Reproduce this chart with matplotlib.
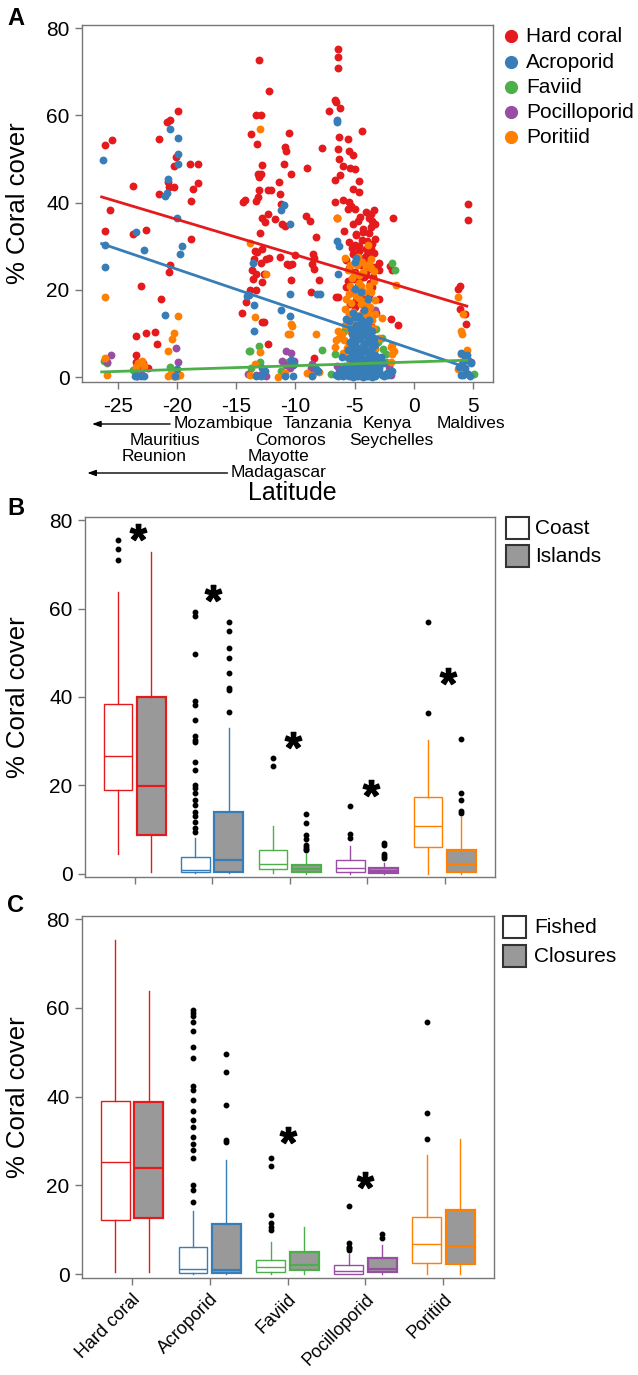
import numpy as np
import matplotlib
matplotlib.use('Agg')
import matplotlib.pyplot as plt
from matplotlib.path import Path
from matplotlib.textpath import TextPath
from matplotlib.font_manager import FontProperties
from matplotlib.patches import Rectangle
import matplotlib.transforms as mtransforms

plt.rcParams['font.family'] = ['Liberation Sans', 'DejaVu Sans']
plt.rcParams['axes.unicode_minus'] = False

# ---------------- DATA ----------------
taxa = ['Hard coral', 'Acroporid', 'Faviid', 'Pocilloporid', 'Poritiid']
colors = ['#E41A1C', '#377EB8', '#4DAF4A', '#984EA3', '#FF7F00']

# Panel A scatter (latitude, % cover)
hc_lat = [-26.1, -25.5, -25.7, -26.1, -23.7, -23.7, -22.6, -23.1, -23.5, -22.6, -21.9, -21.7, -21.4, -21.5, -21.5,
          -20.9, -20.6, -19.9, -20.1, -20.3, -20.8, -20.7, -20.3, -18.95, -18.2, -18.2, -18.7, -18.85, -18.86, -20.6,
          -20.7, -23.5, -23.5, -23.3, -22.9, -23.6, -22.5,
          -13.08, -12.26, -13.3, -12.9, -13.75, -13.25, -12.8, -13.2, -12.95, -13.1, -13.1, -12.3, -12.1, -14.3, -14.4,
          -13.3, -13.2, -12.3, -12.8, -12.6, -12.97, -12.8, -13.45, -13.25, -13.5, -12.95, -12.5, -12.25, -13.7, -13.35,
          -12.7, -13.6, -12.8, -13.85, -13.3, -14.2, -14.5, -12.8, -12.7, -12.3,
          -10.55, -10.9, -10.8, -10.97, -10.4, -11.4, -11.3, -11.25, -11.1, -10.9, -11.3, -10.75, -10.55, -10.4, -11.7,
          -9.1, -8.75, -9.03, -7.74, -8.3, -8.5, -8.4, -8.6, -8.4, -8.7, -8.0, -10.07, -10.3, -8.4,
          -6.42, -6.42, -6.42, -6.64, -6.6, -7.2, -6.2, -6.3, -5.58, -4.37, -6.42, -5.5, -5.15, -6.36, -6.0, -5.35, -5.0,
          -6.2, -6.67, -4.67, -5.1, -4.6, -6.7, -6.0, -5.5, -5.3, -5.0, -5.6, -6.5, -4.7, -4.0, -3.6, -3.4, -3.75, -3.5,
          -3.3, -4.9, -4.4, -5.0, -4.65, -4.0, -3.6, -3.3, -1.78, -5.15, -4.7, -4.2, -3.75, -6.4, -6.55, -5.7, -5.15,
          -4.6, -4.2, -3.75, -3.35, -3.5, -5.4, -5.0, -4.25, -1.9, -1.36, -2.9, -3.2, -4.0, -3.6, -4.2, -4.6, -4.2, -3.5,
          -5.0, -4.45, -4.0, -3.9, -4.5, -4.8, -5.2, -3.8, -4.3, -4.6, -3.9, -2.0, -1.8, -2.9, -2.9,
          4.62, 4.62, 3.7, 3.9, 3.9, 4.34, 4.4,
          -5.9, -5.5, -5.2, -4.9, -4.55, -4.25, -3.95, -3.65, -3.35, -5.75, -5.45, -5.05, -4.75, -4.35, -4.05, -3.7,
          -3.45, -5.3, -4.85, -4.45, -4.1, -3.8, -3.55, -5.6, -5.1]
hc_cov = [53.3, 54.4, 38.4, 33.6, 43.9, 32.9, 33.8, 21.0, 9.4, 10.1, 10.3, 7.5, 18.0, 54.6, 41.9,
          58.4, 59.0, 60.9, 50.4, 48.5, 44.8, 43.6, 43.6, 48.8, 48.9, 44.6, 43.1, 40.4, 31.7, 25.6,
          24.0, 5.0, 3.4, 2.5, 3.2, 1.5, 2.0,
          72.7, 65.5, 60.1, 60.1, 55.8, 53.5, 48.7, 46.6, 46.6, 45.8, 42.8, 42.8, 42.8, 40.5, 40.1,
          40.3, 41.2, 37.5, 36.5, 35.6, 33.1, 29.4, 29.0, 28.6, 27.0, 26.2, 27.0, 27.4, 24.5, 23.7,
          23.7, 22.5, 21.8, 19.9, 19.9, 17.2, 14.6, 12.7, 12.6, 7.7,
          56.0, 52.7, 51.8, 48.9, 46.6, 44.7, 42.0, 39.6, 35.2, 34.6, 27.5, 26.0, 25.6, 22.2, 36.3,
          37.0, 35.9, 47.9, 52.5, 32.1, 28.3, 27.2, 26.0, 24.9, 19.5, 22.2, 27.9, 25.9, 4.4,
          75.2, 73.3, 70.8, 63.6, 63.0, 61.0, 61.7, 55.0, 54.5, 56.4, 52.2, 51.8, 50.8, 50.0, 48.4, 48.0, 47.6,
          46.4, 45.1, 45.0, 43.2, 42.4, 40.1, 40.5, 40.1, 39.3, 38.6, 38.6, 36.5, 35.7, 37.9, 37.5, 38.3, 36.5, 35.9,
          35.1, 32.9, 31.4, 30.4, 29.0, 29.4, 29.4, 31.7, 36.5, 28.3, 27.4, 27.2, 28.0, 18.4, 18.3, 20.6, 19.5,
          22.2, 22.9, 24.9, 25.2, 20.7, 16.8, 16.1, 15.0, 13.4, 11.9, 18.0, 14.6, 13.0, 11.7, 10.5, 11.0, 8.5, 8.3,
          24.0, 25.8, 23.5, 19.0, 18.5, 14.0, 12.5, 33.0, 34.0, 30.0, 26.0, 25.4, 24.6, 26.1, 24.5,
          39.7, 36.1, 20.3, 20.9, 15.6, 14.4, 12.3,
          33.5, 31.0, 29.5, 32.5, 36.8, 33.3, 31.2, 34.4, 28.5, 26.8, 25.0, 22.6, 20.9, 19.8, 27.8, 21.5,
          23.0, 14.2, 17.6, 12.0, 16.5, 18.8, 30.6, 22.0, 35.0]

ac_lat = [-26.3, -26.1, -26.1, -23.5, -22.8, -20.6, -19.96, -19.9, -19.96, -20.8, -20.9, -21.0, -19.99, -19.6, -19.8,
          -21.0, -23.6, -23.4, -22.8, -23.1, -20.0, -20.2, -13.9, -14.1,
          -6.5, -6.5, -6.5, -6.3, -6.4, -11.2, -11.0, -10.5, -13.6, -10.5, -11.2, -10.5, -13.5, -13.5, -8.2, -7.9,
          -5.0, -4.85, -5.0, -5.7, -10.4, -10.1, -8.3, -8.1, -12.8, -12.6, -13.3, -12.9, -10.9, -10.2, -8.6, -2.2, -1.8,
          -5.5, -5.3, -5.1, -4.9, -4.7, -4.5, -4.3, -4.1, -3.9, -3.7, -3.5, -3.3, -5.6, -5.4, -5.2, -5.0, -4.8, -4.6,
          -4.4, -4.2, -4.0, -3.8, -3.6, -3.4, -3.2, -5.45, -5.25, -5.05, -4.85, -4.65, -4.45, -4.25, -4.05, -3.85,
          -3.65, -3.45, -5.35, -5.15, -4.95, -4.75, -4.55, -4.35, -4.15, -3.95, -3.75, -3.55, -5.0, -4.6, -4.2, -3.8,
          -5.3, -4.9, -3.3, -3.1, -2.9, -2.7, -2.5, -2.3, -5.7, -5.8, -5.9, -6.0, -6.2, -6.4, -6.6, -4.5, -3.9, -3.1,
          -2.8, -4.7, -4.1, -3.6, -5.0, -4.4,
          4.0, 4.3, 4.6, 4.05, 4.3, 4.6, 4.2, 4.8, 4.4, 4.0, 3.85, 4.75, 4.5,
          -5.65, -5.35, -5.15, -4.95, -4.75, -4.55, -4.35, -4.15, -3.95, -3.75, -3.55, -3.35, -5.55, -5.25, -4.9,
          -4.6, -4.3, -4.0, -3.7, -3.4, -5.45, -5.1, -4.8, -4.5, -4.2, -3.9, -3.6, -5.2, -4.7, -4.25, -3.85, -4.45,
          -5.05, -3.5, -4.05, -2.95, -2.6, -6.1, -5.95, -3.25]
ac_cov = [49.8, 30.2, 25.2, 33.2, 29.1, 56.9, 54.8, 51.2, 48.8, 45.4, 42.2, 41.5, 36.5, 30.1, 28.3,
          14.3, 0.2, 0.2, 0.2, 0.3, 1.9, 0.2, 18.8, 18.5,
          59.0, 58.4, 31.1, 30.0, 23.6, 38.4, 39.4, 35.2, 26.1, 19.0, 15.5, 14.0, 16.5, 10.7, 19.0, 19.0,
          26.4, 27.4, 20.3, 13.4, 3.9, 3.1, 1.8, 1.5, 2.0, 1.4, 0.3, 0.2, 0.3, 0.3, 0.3, 0.5, 1.4,
          0.2, 0.5, 0.1, 0.3, 0.2, 0.6, 0.1, 0.4, 0.2, 0.5, 0.1, 0.3, 1.2, 1.8, 2.5, 1.0, 3.2, 2.0,
          1.4, 3.8, 2.6, 1.1, 2.2, 1.6, 0.8, 4.5, 5.2, 6.0, 4.8, 6.8, 5.5, 7.2, 4.2, 5.8,
          3.5, 4.6, 8.1, 9.0, 7.5, 10.2, 8.8, 11.5, 9.6, 12.4, 8.0, 10.5, 13.8, 14.0, 15.5, 13.0,
          11.0, 12.0, 5.0, 2.9, 1.5, 0.6, 0.2, 1.0, 0.4, 2.6, 0.9, 0.2, 1.6, 0.3, 0.6, 19.5, 17.9, 3.8,
          4.6, 0.9, 1.7, 0.2, 2.8, 3.0,
          5.5, 4.6, 3.9, 3.0, 2.0, 0.8, 0.6, 3.3, 1.0, 0.4, 2.3, 0.3, 5.0,
          0.8, 2.0, 3.6, 5.0, 1.5, 9.8, 2.4, 6.4, 10.8, 3.0, 6.8, 1.2, 6.3, 10.0, 8.6,
          11.8, 4.0, 7.8, 5.4, 8.8, 12.8, 14.6, 1.9, 13.2, 0.9, 9.2, 0.6, 7.0, 4.4, 12.6, 11.2, 0.3,
          0.5, 2.8, 0.2, 2.2, 3.2, 4.6, 0.9, 7.4]

fa_lat = [-26.2, -23.7, -23.2, -20.6, -20.0, -13.85, -13.9, -13.1, -13.0, -13.8, -11.2, -10.6, -7.74, -1.8, -1.55,
          -6.7, -5.9, -5.3, -3.0, -2.6, -2.35, -2.35, -3.4, -4.6, -4.0, -5.6, 4.1, 5.1, -6.0, -3.2, -2.7, -8.6, -7.0,
          -25.9, -4.3, -5.0, -3.7]
fa_cov = [3.6, 1.6, 0.9, 2.4, 0.8, 6.0, 6.0, 7.1, 3.5, 2.0, 1.5, 3.5, 6.2, 26.2, 24.5,
          5.4, 10.5, 6.5, 8.0, 6.5, 5.4, 3.5, 3.0, 5.0, 10.0, 2.0, 2.4, 0.7, 1.8, 11.0, 9.0, 0.5, 0.8,
          3.2, 2.2, 8.0, 4.0]

po_lat = [-25.6, -25.9, -20.1, -19.95, -23.4, -23.0, -20.3, -10.8, -10.4, -10.1, -11.1, -10.8, -10.5, -10.2, -13.3,
          -13.0, -12.7, -8.6, -8.7, -8.8, -6.5, -6.3, -5.6, -5.0, -3.3, -3.5, -1.9, 4.5, 4.8, -2.1, -4.2, -3.8, -4.7,
          -5.3, -3.0, -14.0, -12.5, -4.9, -4.4, -3.9, -5.3, -3.6]
po_cov = [5.1, 3.4, 6.7, 3.4, 0.2, 0.4, 0.3, 6.0, 5.5, 3.8, 3.8, 2.8, 2.0, 2.8, 0.5,
          0.5, 0.5, 3.0, 2.0, 1.0, 2.5, 1.8, 1.0, 1.5, 15.5, 2.4, 0.5, 3.9, 3.5, 2.4, 4.5, 3.5, 2.8,
          4.0, 1.0, 0.8, 0.3, 0.6, 1.2, 0.7, 2.0, 5.5]

pr_lat = [-26.1, -26.1, -25.9, -19.9, -20.3, -20.4, -20.8, -23.3, -23.0, -23.5, -22.8, -20.0, -20.3, -20.6, -20.8,
          -19.8, -20.5, -13.87, -13.85, -13.0, -6.5, -3.9, -5.8, -3.8, -3.6, -3.4, -1.5, -12.5, -13.4, -10.4, -10.3,
          -10.5, -10.6, -8.3, -13.0, -13.4, -11.5, -10.9, -8.0, -6.6, -6.3, -6.7, -1.9, -1.7, -1.9, -1.8, -1.85,
          3.75, 4.2, 4.0, 4.05, 4.5, 4.0, 4.3, 3.75, -8.6, -9.0,
          -5.6, -5.2, -4.8, -4.4, -4.0, -3.6, -5.4, -5.0, -4.6, -4.2, -3.8, -3.4, -5.7, -5.3, -4.9, -4.5, -4.1, -3.7,
          -3.3, -5.5, -5.1, -4.7, -4.3, -3.9, -3.5, -5.8, -5.4, -5.0, -4.6, -4.2, -3.8, -3.4, -5.9, -5.5, -5.1, -4.7,
          -4.3, -3.9, -3.5, -6.0, -5.6, -5.2, -4.8, -4.4, -4.0, -3.6, -3.2, -5.5, -4.9, -4.3, -3.7, -3.3, -2.9, -2.7,
          -6.1, -6.4, -5.4, -4.6,
          -5.85, -5.45, -5.05, -4.65, -4.25, -3.85, -3.45, -5.65, -5.25, -4.85, -4.45, -4.05, -3.65, -3.25, -5.35,
          -4.95, -4.55, -4.15, -3.75, -4.75, -4.35, -3.95]
pr_cov = [18.4, 4.4, 0.5, 14.0, 10.2, 8.7, 6.1, 3.2, 3.8, 2.3, 2.6, 0.3, 0.2, 0.4, 0.3,
          0.6, 1.0, 30.7, 0.5, 56.9, 36.5, 30.4, 27.2, 26.0, 25.0, 24.3, 21.2, 23.7, 13.8, 12.3, 11.7,
          10.0, 9.8, 9.8, 5.8, 3.1, 0.1, 1.0, 1.2, 8.5, 8.9, 7.0, 7.0, 6.0, 3.5, 7.3, 5.4,
          18.4, 14.4, 10.5, 10.0, 6.2, 5.4, 5.4, 1.8, 0.4, 1.0,
          24.5, 22.8, 25.6, 26.5, 25.2, 27.0, 21.0, 20.0, 21.5, 19.5, 20.8, 22.0, 18.0, 17.0, 18.5, 16.8, 17.5, 16.0,
          17.8, 14.5, 15.0, 13.5, 14.8, 14.0, 13.0, 12.0, 10.5, 11.5, 9.5, 12.0, 10.0, 9.0, 8.5, 7.5, 8.0, 6.5,
          7.0, 6.0, 7.0, 5.5, 4.5, 3.5, 4.0, 2.5, 3.0, 4.0, 2.5, 1.5, 1.0, 0.8, 1.2, 6.5, 9.0, 13.5,
          9.9, 10.5, 25.8, 23.5,
          15.6, 19.0, 23.6, 18.2, 24.0, 15.2, 11.2, 6.8, 12.5, 9.2, 21.0, 11.0, 19.5, 14.5, 3.0,
          5.6, 11.5, 5.0, 2.0, 27.5, 8.5, 16.9]

# linear fits in panel A: latitude range and fitted cover at ends
fit_lat = [-26.5, 4.6]
fit_hc = [41.4, 16.2]
fit_ac = [30.7, 2.1]
fit_fa = [1.2, 3.9]

# country labels under panel A (latitude position, text row)
country_names = ['Mozambique', 'Tanzania', 'Kenya', 'Maldives', 'Mauritius', 'Comoros', 'Seychelles',
                 'Reunion', 'Mayotte', 'Madagascar']
country_lat = [-20.3, -8.15, -2.2, 4.85, -21.0, -10.43, -1.93, -21.97, -11.4, -15.45]
country_row = [0, 0, 0, 0, 1, 1, 1, 2, 2, 3]
country_align = ['left', 'center', 'center', 'center', 'center', 'center', 'center', 'center', 'center', 'left']
arrow_from = [-20.6, -15.75]
arrow_to = [-27.2, -27.6]
arrow_row = [0, 3]

# Panel B: Coast vs Islands box statistics
B_coast = dict(med=[26.7, 0.8, 2.3, 1.4, 10.8], q1=[18.9, 0.4, 1.2, 0.4, 6.1], q3=[38.5, 3.8, 5.3, 3.1, 17.5],
               whislo=[4.5, 0.15, 0.1, 0.05, 0.0], whishi=[63.8, 8.1, 10.8, 6.4, 30.3],
               fliers=[[75.6, 73.4, 70.9],
                       [59.3, 58.4, 49.7, 39.2, 38.2, 34.8, 31.2, 30.2, 29.8, 25.3, 23.6, 20.2, 19.4, 18.4, 16.6,
                        15.6, 14.0, 13.2, 11.7, 10.4, 9.5],
                       [26.2, 24.3], [15.3, 9.0, 8.1], [57.0, 36.3]])
B_islands = dict(med=[19.9, 3.1, 1.0, 0.75, 2.3], q1=[8.7, 0.5, 0.5, 0.1, 0.4], q3=[39.9, 14.1, 2.1, 1.35, 5.3],
                 whislo=[0.4, 0.1, 0.05, 0.0, 0.0], whishi=[72.7, 33.0, 4.5, 2.5, 12.8],
                 fliers=[[], [56.9, 54.9, 51.1, 48.8, 45.5, 42.1, 41.5, 36.6],
                         [13.5, 11.5, 8.9, 7.8, 6.6, 6.1, 5.6, 5.3], [7.0, 6.6, 4.5, 4.0, 3.5],
                         [30.5, 18.3, 16.8, 14.3, 13.8]])
B_star_x = [1.04, 2.01, 3.04, 4.05, 5.04]
B_star_y = [77.4, 63.6, 30.3, 19.4, 44.8]

# Panel C: Fished vs Closures box statistics
C_fished = dict(med=[25.2, 1.1, 1.5, 0.6, 6.8], q1=[12.2, 0.2, 0.4, 0.0, 2.5], q3=[39.1, 6.2, 3.2, 1.95, 12.8],
                whislo=[0.4, 0.0, 0.0, 0.0, 0.0], whishi=[75.4, 14.1, 7.2, 4.6, 26.9],
                fliers=[[], [59.6, 58.8, 58.1, 56.7, 54.7, 51.1, 48.8, 42.3, 41.5, 39.3, 36.7, 34.8, 33.1, 30.9,
                             29.2, 28.0, 26.1, 20.1, 18.9, 16.2],
                        [26.1, 24.3, 13.4, 11.5, 10.7, 10.0], [15.4, 7.1, 6.2, 5.9, 5.3], [56.9, 36.3, 30.5]])
C_closed = dict(med=[23.9, 1.0, 2.1, 1.2, 6.4], q1=[12.6, 0.2, 1.0, 0.45, 2.3], q3=[38.8, 11.3, 5.0, 3.5, 14.5],
                whislo=[0.4, 0.0, 0.0, 0.0, 0.0], whishi=[63.9, 25.8, 10.6, 6.5, 30.4],
                fliers=[[], [49.7, 45.5, 38.2, 30.3, 29.8], [], [9.0, 8.1], []])
C_star_x = [3.0, 4.0]
C_star_y = [31.4, 21.3]

# ---------------- LAYOUT ----------------
W, H = 638, 1375
fig = plt.figure(figsize=(W / 100, H / 100), dpi=100)


def rect(l, t, r, b):
    return [l / W, 1 - b / H, (r - l) / W, (b - t) / H]


FRAME = '#777777'
GRAY = '#999999'


def style_axes(ax):
    for s in ax.spines.values():
        s.set_color(FRAME)
        s.set_linewidth(1.0)
    ax.tick_params(direction='out', length=5, width=1, color=FRAME, labelsize=15, pad=4, labelcolor='black')


axA = fig.add_axes(rect(82, 25, 493, 382))
axB = fig.add_axes(rect(85, 517, 495, 877))
axC = fig.add_axes(rect(82, 916, 494, 1278))
ov = fig.add_axes([0, 0, 1, 1])
ov.set_xlim(0, W)
ov.set_ylim(H, 0)
ov.axis('off')

# ---- Panel A ----
series = [(hc_lat, hc_cov, colors[0]), (fa_lat, fa_cov, colors[2]), (po_lat, po_cov, colors[3]),
          (pr_lat, pr_cov, colors[4]), (ac_lat, ac_cov, colors[1])]
for la, cv, c in series:
    axA.scatter(la, cv, s=32, color=c, linewidths=0, zorder=2)
for fy, c in ((fit_hc, colors[0]), (fit_ac, colors[1]), (fit_fa, colors[2])):
    axA.plot(fit_lat, fy, color=c, lw=2.0, zorder=3, solid_capstyle='butt')
axA.set_xlim(-28.05, 6.7)
axA.set_ylim(-1.1, 80.7)
axA.set_xticks([-25, -20, -15, -10, -5, 0, 5])
axA.set_yticks([0, 20, 40, 60, 80])
style_axes(axA)
axA.tick_params(axis='x', pad=6)

# legend A
leg_y = [36, 62, 87, 112, 137]
for i, name in enumerate(taxa):
    ov.plot([511], [leg_y[i]], marker='o', markersize=8.5, color=colors[i], linestyle='none')
    ov.text(526, leg_y[i], name, fontsize=15, ha='left', va='center')

# countries
row_y = [423, 440, 456, 472]
blend = mtransforms.blended_transform_factory(axA.transData, ov.transData)
for name, la, r, al in zip(country_names, country_lat, country_row, country_align):
    ov.text(la, row_y[r], name, transform=blend, fontsize=12.5, ha=al, va='center')
for a0, a1, r in zip(arrow_from, arrow_to, arrow_row):
    ov.annotate('', xy=(a1, row_y[r] + 1), xycoords=blend, xytext=(a0, row_y[r] + 1), textcoords=blend,
                arrowprops=dict(arrowstyle='-|>,head_length=0.5,head_width=0.18', color='black', lw=1.0,
                                shrinkA=0, shrinkB=0))
ov.text(292, 493, 'Latitude', fontsize=18, ha='center', va='center')

# ---- Box panels ----
OFF = 0.215
BOXW = 0.37


def draw_boxes(ax, sa, sb):
    for i in range(5):
        for st_src, off, fill, lw in ((sa, -OFF, 'white', 1.0), (sb, OFF, GRAY, 1.6)):
            st = dict(med=st_src['med'][i], q1=st_src['q1'][i], q3=st_src['q3'][i],
                      whislo=st_src['whislo'][i], whishi=st_src['whishi'][i], fliers=st_src['fliers'][i])
            c = colors[i]
            ax.bxp([st], positions=[i + 1 + off], widths=BOXW, patch_artist=True, showcaps=False,
                   manage_ticks=False,
                   boxprops=dict(facecolor=fill, edgecolor=c, linewidth=lw),
                   medianprops=dict(color=c, linewidth=lw),
                   whiskerprops=dict(color=c, linewidth=1.0),
                   flierprops=dict(marker='o', markerfacecolor='black', markeredgecolor='black',
                                   markersize=3.2, linestyle='none'))
    ax.set_xlim(0.36, 5.65)
    ax.set_xticks([1, 2, 3, 4, 5])
    ax.set_yticks([0, 20, 40, 60, 80])
    style_axes(ax)


# asterisk glyph as a centred marker path (closing vertices reset to the subpath start)
fp = FontProperties(family='Liberation Sans', weight='bold')
tp = TextPath((0, 0), '*', size=10, prop=fp)
verts = np.array(tp.vertices, dtype=float)
codes = np.array(tp.codes)
start = 0
for k, cd in enumerate(codes):
    if cd == Path.MOVETO:
        start = k
    elif cd == Path.CLOSEPOLY:
        verts[k] = verts[start]
cx = (verts[:, 0].min() + verts[:, 0].max()) / 2
cy = (verts[:, 1].min() + verts[:, 1].max()) / 2
star_path = Path(verts - [cx, cy], codes)

draw_boxes(axB, B_coast, B_islands)
axB.set_ylim(-0.7, 80.7)
axB.set_xticklabels([])
axB.plot(B_star_x, B_star_y, linestyle='none', marker=star_path, markersize=12, color='black')

draw_boxes(axC, C_fished, C_closed)
axC.set_ylim(-0.9, 80.7)
axC.set_xticklabels(taxa, rotation=45, ha='right', va='top', rotation_mode='anchor', fontsize=13)
axC.plot(C_star_x, C_star_y, linestyle='none', marker=star_path, markersize=12, color='black')

# legends B and C
for (x0, ys, labels, tx) in ((506, [517, 545], ['Coast', 'Islands'], 535),
                             (503, [916, 945], ['Fished', 'Closures'], 534)):
    for y0, lab, fc in zip(ys, labels, ['white', GRAY]):
        ov.add_patch(Rectangle((x0, y0), 23, 22, facecolor=fc, edgecolor='#333333', lw=1.5))
        ov.text(tx, y0 + 11, lab, fontsize=15, ha='left', va='center')

# y labels and panel letters
for yc in (203, 697, 1097):
    ov.text(18, yc, '% Coral cover', fontsize=18.5, rotation=90, ha='center', va='center')
for lab, yc in (('A', 18), ('B', 508), ('C', 905)):
    ov.text(16, yc, lab, fontsize=17, fontweight='bold', ha='center', va='center')

fig.savefig('out.png', dpi=100)
